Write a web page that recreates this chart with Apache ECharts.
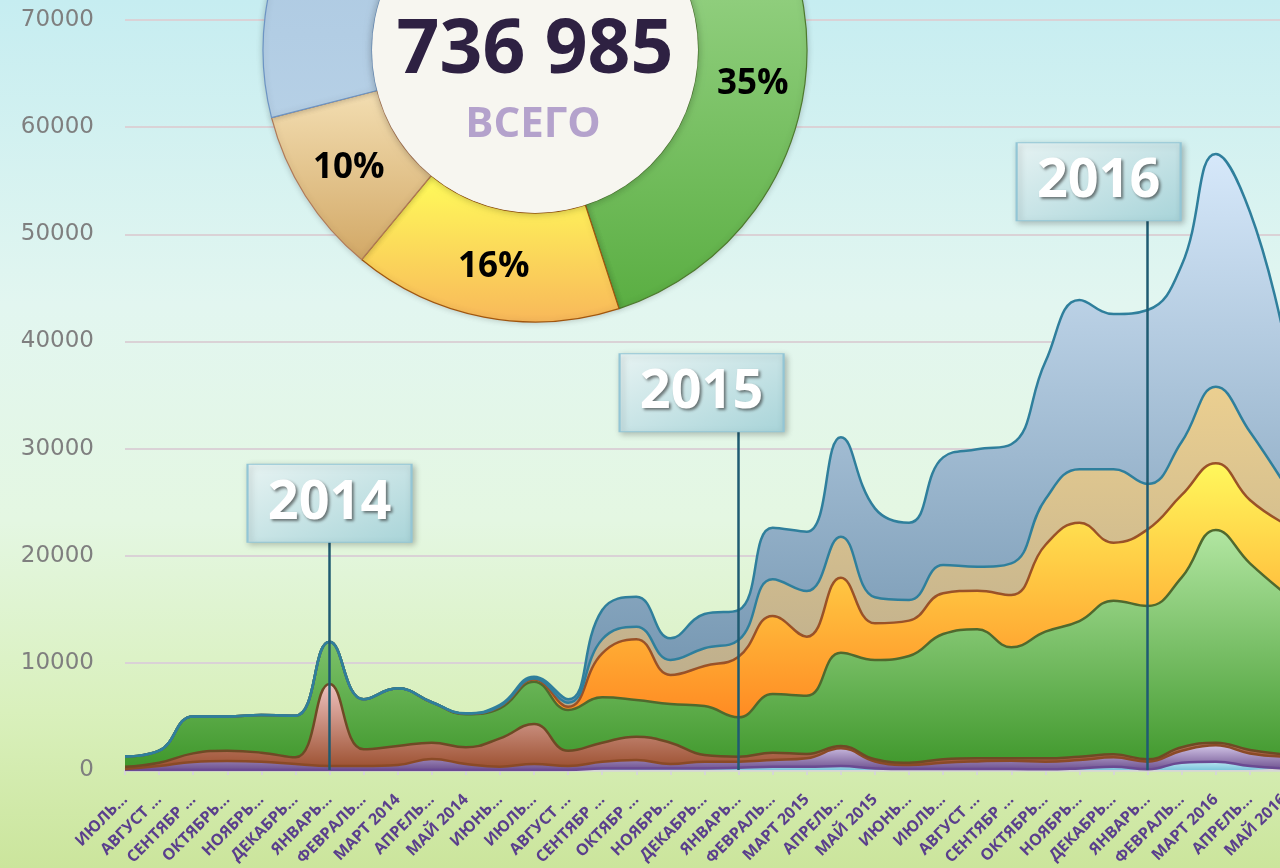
<!DOCTYPE html>
<html>
<head>
<meta charset="utf-8">
<script src="https://cdn.jsdelivr.net/npm/echarts@6/dist/echarts.min.js"></script>
<style>
html,body{margin:0;padding:0;width:1280px;height:868px;overflow:hidden;}
#chart{width:1280px;height:868px;}
</style>
</head>
<body>
<div id="chart"></div>
<script>
const categories = ['ИЮЛЬ...','АВГУСТ ...','СЕНТЯБР ...','ОКТЯБРЬ...','НОЯБРЬ...','ДЕКАБРЬ...','ЯНВАРЬ...','ФЕВРАЛЬ...','МАРТ 2014','АПРЕЛЬ...','МАЙ 2014','ИЮНЬ...','ИЮЛЬ...','АВГУСТ ...','СЕНТЯБР ...','ОКТЯБР ...','НОЯБРЬ...','ДЕКАБРЬ...','ЯНВАРЬ...','ФЕВРАЛЬ...','МАРТ 2015','АПРЕЛЬ...','МАЙ 2015','ИЮНЬ...','ИЮЛЬ...','АВГУСТ ...','СЕНТЯБР ...','ОКТЯБРЬ...','НОЯБРЬ...','ДЕКАБРЬ...','ЯНВАРЬ...','ФЕВРАЛЬ...','МАРТ 2016','АПРЕЛЬ...','МАЙ 2016'];

const cyanValues   = [0,0,0,0,0,0,0,0,0,0,0,0,0,0,150,150,150,150,200,300,300,370,150,100,100,100,100,60,150,310,60,680,780,370,150];
const purpleValues = [100,370,750,840,780,560,370,370,470,1030,560,310,560,370,630,780,410,630,580,630,790,1650,650,370,580,700,770,720,780,870,720,1120,1520,1180,1090];
const brownValues  = [200,310,800,960,840,620,7660,1560,1770,1520,1560,2640,3730,1430,1770,2180,1990,620,460,690,400,220,200,210,320,290,220,310,310,280,220,320,250,320,220];
const greenValues  = [950,1120,3450,3200,3510,3890,3940,4670,5380,3770,3080,2810,3950,3800,4230,3420,3610,4570,3680,5470,5440,8710,9270,9960,11690,12040,10360,11820,12660,14340,14310,15860,19850,17420,15090];
const orangeValues = [0,0,0,0,0,0,0,0,0,0,50,150,200,310,4110,5670,2710,3740,5660,7280,5510,7000,3420,3300,3800,3600,4880,8090,9180,5420,7150,7690,6220,5910,6470];
const tanValues    = [0,0,0,0,0,0,0,0,0,0,20,60,100,370,1310,1170,1400,1650,1550,3430,4260,3820,2430,1930,2640,2240,2960,4260,4990,6850,4230,4970,7150,6370,3740];
const steelValues  = [0,0,0,0,0,0,0,0,0,0,20,100,170,320,2730,2800,2020,3200,2800,4810,5540,9280,8300,7210,10050,10960,11110,12850,15800,14490,16240,16490,21720,20530,13680];

const yTicks = [0,10000,20000,30000,40000,50000,60000,70000];

const donutNames  = ['green','orange','tan','steel','cyan','purple','brown'];
const donutShares = [35,16,10,30,1,3,5];
const totalText = '736 985';
const totalLabel = 'ВСЕГО';

const yearMarks = [
  {name:'2014', index:6,  lineTop:21300, boxCenter:24900, offsetX:0},
  {name:'2015', index:18, lineTop:31550, boxCenter:35200, offsetX:-37},
  {name:'2016', index:30, lineTop:51250, boxCenter:54900, offsetX:-49}
];

function vgrad(c0, c1){
  return new echarts.graphic.LinearGradient(0,0,0,1,[{offset:0,color:c0},{offset:1,color:c1}]);
}

const seriesDefs = [
  {name:'cyan',   data:cyanValues,   top:'#b9e6f2', bot:'#7cc6dc', line:'#6a4a92'},
  {name:'purple', data:purpleValues, top:'#d2c4e6', bot:'#6c4f8e', line:'#8a4a26'},
  {name:'brown',  data:brownValues,  top:'#efc2c0', bot:'#9c5030', line:'#6e4a25'},
  {name:'green',  data:greenValues,  top:'#b2e6a2', bot:'#40982c', line:'#50692e'},
  {name:'orange', data:orangeValues, top:'#fff85c', bot:'#ff7a1a', line:'#9a5228'},
  {name:'tan',    data:tanValues,    top:'#ebcf90', bot:'#b2a68c', line:'#2f7f9c'},
  {name:'steel',  data:steelValues,  top:'#d6e8fa', bot:'#668aa6', line:'#2f7f9c'}
];

const areaSeries = seriesDefs.map(function(d){
  return {
    name:d.name, type:'line', stack:'total', smooth:0.45, symbol:'none',
    data:d.data,
    lineStyle:{color:d.line, width:2.5},
    areaStyle:{color:vgrad(d.top,d.bot), opacity:1},
    z:2
  };
});

const last = areaSeries[areaSeries.length-1];
last.markLine = {
  silent:true, symbol:['none','none'],
  label:{show:false},
  lineStyle:{color:'#1f5b72', width:2.5, type:'solid'},
  data: yearMarks.map(function(m){ return [{coord:[m.index,0]},{coord:[m.index,m.lineTop]}]; })
};
last.markPoint = {
  silent:true,
  symbol:'rect',
  symbolSize:[164,78],
  itemStyle:{
    color:new echarts.graphic.LinearGradient(0,0,1,1,[{offset:0,color:'rgba(236,248,248,0.92)'},{offset:1,color:'rgba(168,214,220,0.92)'}]),
    borderColor:'#93c6d6', borderWidth:1.5,
    shadowColor:'rgba(0,0,0,0.25)', shadowBlur:6, shadowOffsetX:2, shadowOffsetY:2
  },
  label:{
    show:true, position:'inside', color:'#ffffff', fontFamily:'Open Sans', fontWeight:'bold', fontSize:54,
    textShadowColor:'rgba(40,40,40,0.6)', textShadowBlur:3, textShadowOffsetX:2, textShadowOffsetY:2,
    formatter:function(p){ return p.name; }
  },
  data: yearMarks.map(function(m){ return {name:m.name, coord:[m.index,m.boxCenter], symbolOffset:[m.offsetX,0]}; })
};

const donutColors = {
  green:vgrad('#acdf9c','#5aae42'),
  orange:vgrad('#fffc5a','#f8b85a'),
  tan:vgrad('#f3deb2','#d2a866'),
  steel:vgrad('#a6c4de','#b6d0e6'),
  cyan:vgrad('#bfe6f0','#9fd6e6'),
  purple:vgrad('#cdbde0','#a890c8'),
  brown:vgrad('#e8b8b0','#c88878')
};
const donutBorders = {green:'#4e7a2e',orange:'#a0560e',tan:'#b07a58',steel:'#6c94c4',cyan:'#6aaac0',purple:'#7a5aa0',brown:'#a06050'};

const option = {
  animation:false,
  backgroundColor:new echarts.graphic.LinearGradient(0,0,0,1,[
    {offset:0,color:'#c6edf1'},{offset:0.35,color:'#e2f6f0'},{offset:0.6,color:'#e4f7e2'},{offset:0.82,color:'#d9f0bc'},{offset:1,color:'#cbe59c'}
  ]),
  grid:{left:125, right:-4, top:20, bottom:98, containLabel:false, outerBoundsMode:'none'},
  xAxis:{
    type:'category', boundaryGap:false, data:categories,
    axisLine:{show:true, lineStyle:{color:'#d6d6d6', width:2.5}},
    axisTick:{show:true, alignWithLabel:true, length:5, lineStyle:{color:'#d6d6d6', width:2}},
    axisLabel:{interval:0, rotate:45, margin:27, color:'#5a3f8c', fontFamily:'Open Sans', fontWeight:'bold', fontSize:16, hideOverlap:false},
    splitLine:{show:false}
  },
  yAxis:{
    type:'value', min:yTicks[0], max:yTicks[yTicks.length-1], interval:yTicks[1]-yTicks[0],
    axisLine:{show:false}, axisTick:{show:false},
    axisLabel:{color:'#7f7f7f', fontFamily:'DejaVu Sans', fontSize:23, margin:31, formatter:function(v){ return String(v); }},
    splitLine:{show:true, lineStyle:{color:'#dad2d6', width:2}}
  },
  graphic:[
    {type:'text', z:100, style:{text:totalText, x:535, y:52, textAlign:'center', textVerticalAlign:'middle', fill:'#2e2142', font:'bold 75px "Open Sans"'}},
    {type:'text', z:100, style:{text:totalLabel, x:533, y:125, textAlign:'center', textVerticalAlign:'middle', fill:'#b4a2cc', font:'bold 42px "Open Sans"'}}
  ],
  series: areaSeries.concat([
    {
      type:'pie', silent:true, center:[535,50], radius:[0,163], z:5,
      label:{show:false}, labelLine:{show:false},
      itemStyle:{color:'#f7f6f0', shadowColor:'rgba(0,0,0,0.25)', shadowBlur:8},
      data:[{value:1, name:'inner'}]
    },
    {
      type:'pie', silent:true, center:[535,50], radius:[163,272], startAngle:54, clockwise:true, z:4,
      labelLine:{show:false},
      label:{show:true, position:'inside', formatter:'{c}%', color:'#000000', fontFamily:'Open Sans', fontWeight:'bold', fontSize:35},
      itemStyle:{shadowColor:'rgba(0,0,0,0.2)', shadowBlur:6},
      data: donutNames.map(function(n,i){
        return {name:n, value:donutShares[i], itemStyle:{color:donutColors[n], borderColor:donutBorders[n], borderWidth:1.2}};
      })
    }
  ])
};

const chart = echarts.init(document.getElementById('chart'), null, {renderer:'canvas'});
chart.setOption(option);
</script>
</body>
</html>
